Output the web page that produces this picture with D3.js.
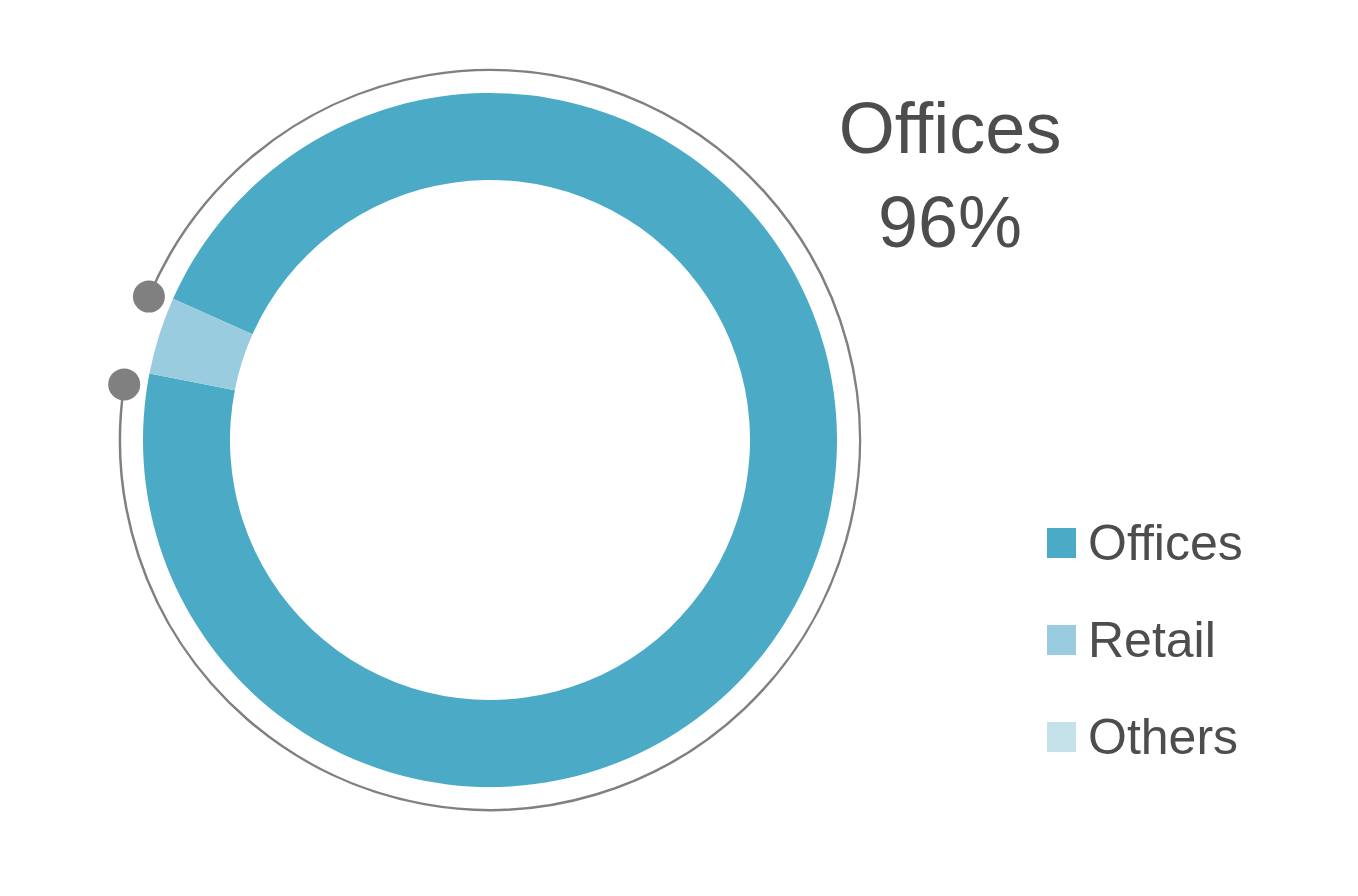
<!DOCTYPE html>
<html><head><meta charset="utf-8">
<script src="https://cdn.jsdelivr.net/npm/d3@7"></script>
<style>body{margin:0;background:#fff}text{font-family:"Liberation Sans",Arial,sans-serif;fill:#4d4d4d}</style>
</head><body>
<svg id="c" width="1358" height="896"></svg>
<script>
const categories = ["Offices", "Retail", "Others"];
const values = [96.4, 3.6, 0];
const colors = ["#4BABC6", "#9ACCDF", "#C5E1E9"];
const headline = ["Offices", "96%"];

const svg = d3.select("#c");
const cx = 490, cy = 440;
const g = svg.append("g").attr("transform", `translate(${cx},${cy})`);
const startA = -66 * Math.PI / 180;
const pie = d3.pie().sort(null).startAngle(startA).endAngle(startA + 2 * Math.PI);
const arcs = pie(values);
const arc = d3.arc().innerRadius(260).outerRadius(347);
g.selectAll("path.s").data(arcs).join("path").attr("class", "s")
  .attr("d", arc).attr("fill", (d, i) => colors[i]);

// outer arc around offices
const o = arcs[0];
const pad = 1.2 * Math.PI / 180;
const R = 370;
g.append("path").attr("d", d3.arc().innerRadius(R).outerRadius(R)({startAngle: o.startAngle - pad, endAngle: o.endAngle - 2 * pad}))
  .attr("fill", "none").attr("stroke", "#808080").attr("stroke-width", 2.5);
[o.startAngle - pad, o.endAngle - 2 * pad].forEach(a => {
  g.append("circle").attr("cx", R * Math.sin(a)).attr("cy", -R * Math.cos(a)).attr("r", 16).attr("fill", "#808080");
});

svg.append("text").attr("x", 950).attr("y", 153).attr("text-anchor", "middle").attr("font-size", 72).text(headline[0]);
svg.append("text").attr("x", 950).attr("y", 247).attr("text-anchor", "middle").attr("font-size", 72).text(headline[1]);

const lg = svg.append("g");
categories.forEach((c, i) => {
  const y = 528 + i * 97;
  lg.append("rect").attr("x", 1047).attr("y", y).attr("width", 29).attr("height", 30).attr("fill", colors[i]);
  lg.append("text").attr("x", 1088).attr("y", y + 32).attr("font-size", 50).text(c);
});
</script></body></html>
